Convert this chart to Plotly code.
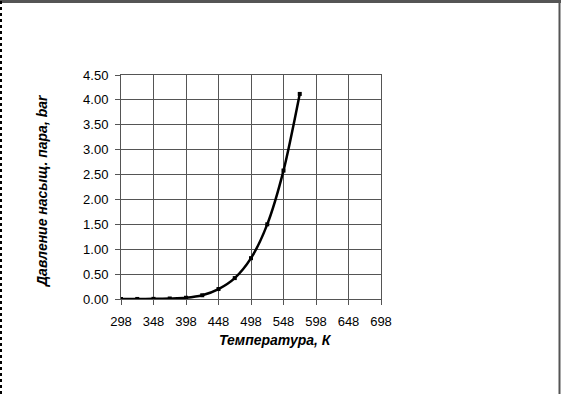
import plotly.graph_objects as go

temperature_K = [298, 323, 348, 373, 398, 423, 448, 473, 498, 523, 548, 573]
pressure_bar = [0.0003, 0.001, 0.003, 0.01, 0.025, 0.075, 0.20, 0.42, 0.82, 1.50, 2.58, 4.12]

x_ticks = [298, 348, 398, 448, 498, 548, 598, 648, 698]
y_ticks = [0, 0.5, 1.0, 1.5, 2.0, 2.5, 3.0, 3.5, 4.0, 4.5]

x_title = "Температура, К"
y_title = "Давление насыщ. пара, bar"

FONT = "Liberation Sans, Arial, sans-serif"

fig = go.Figure()
fig.add_trace(go.Scatter(
    x=temperature_K, y=pressure_bar,
    mode="lines+markers",
    line=dict(color="black", width=2.5, shape="spline", smoothing=0.8),
    marker=dict(symbol="square", size=4, color="black"),
    showlegend=False,
))

W, H = 561, 394
L, R, T, B = 121, 180, 75, 95
PW, PH = W - L - R, H - T - B

fig.update_layout(
    width=W, height=H,
    margin=dict(l=L, r=R, t=T, b=B, autoexpand=False),
    paper_bgcolor="white", plot_bgcolor="white",
    font=dict(family=FONT, size=13, color="black"),
    xaxis=dict(
        range=[298, 698], tickvals=x_ticks, ticktext=[str(v) for v in x_ticks],
        showgrid=True, gridcolor="#555555", gridwidth=1,
        showline=True, linecolor="#555555", linewidth=1, mirror=True,
        ticks="outside", ticklen=5, tickcolor="#555555", ticklabelstandoff=5,
        zeroline=False, fixedrange=True, automargin=False,
    ),
    yaxis=dict(
        range=[0, 4.5], tickvals=y_ticks, ticktext=[f"{v:.2f}" for v in y_ticks],
        showgrid=True, gridcolor="#555555", gridwidth=1,
        showline=True, linecolor="#555555", linewidth=1, mirror=True,
        ticks="outside", ticklen=5, tickcolor="#555555", ticklabelstandoff=4,
        zeroline=False, fixedrange=True, automargin=False,
    ),
    annotations=[
        dict(text=f"<b><i>{x_title}</i></b>", xref="paper", yref="paper",
             x=(275 - L) / PW, y=-(340 - (H - B)) / PH,
             xanchor="center", yanchor="middle", showarrow=False,
             font=dict(family=FONT, size=14, color="black")),
        dict(text=f"<b><i>{y_title}</i></b>", xref="paper", yref="paper",
             x=-(L - 42) / PW, y=(H - B - 191) / PH,
             xanchor="center", yanchor="middle", showarrow=False, textangle=-90,
             font=dict(family=FONT, size=14, color="black")),
    ],
    shapes=[
        dict(type="line", xref="paper", yref="paper",
             x0=-L / PW, x1=(W - L) / PW,
             y0=(H - B - 1.5) / PH, y1=(H - B - 1.5) / PH,
             line=dict(color="#555555", width=3)),
        dict(type="line", xref="paper", yref="paper",
             x0=(W - L - 1.5) / PW, x1=(W - L - 1.5) / PW,
             y0=-B / PH, y1=(H - B) / PH,
             line=dict(color="#555555", width=2)),
        dict(type="line", xref="paper", yref="paper",
             x0=-(L - 1) / PW, x1=-(L - 1) / PW,
             y0=-B / PH, y1=(H - B) / PH,
             line=dict(color="black", width=2, dash="dot")),
    ],
)

fig.write_html(
    "out.html",
    config={"displayModeBar": False},
    post_script="document.body.style.margin='0';document.body.style.overflow='hidden';",
)
